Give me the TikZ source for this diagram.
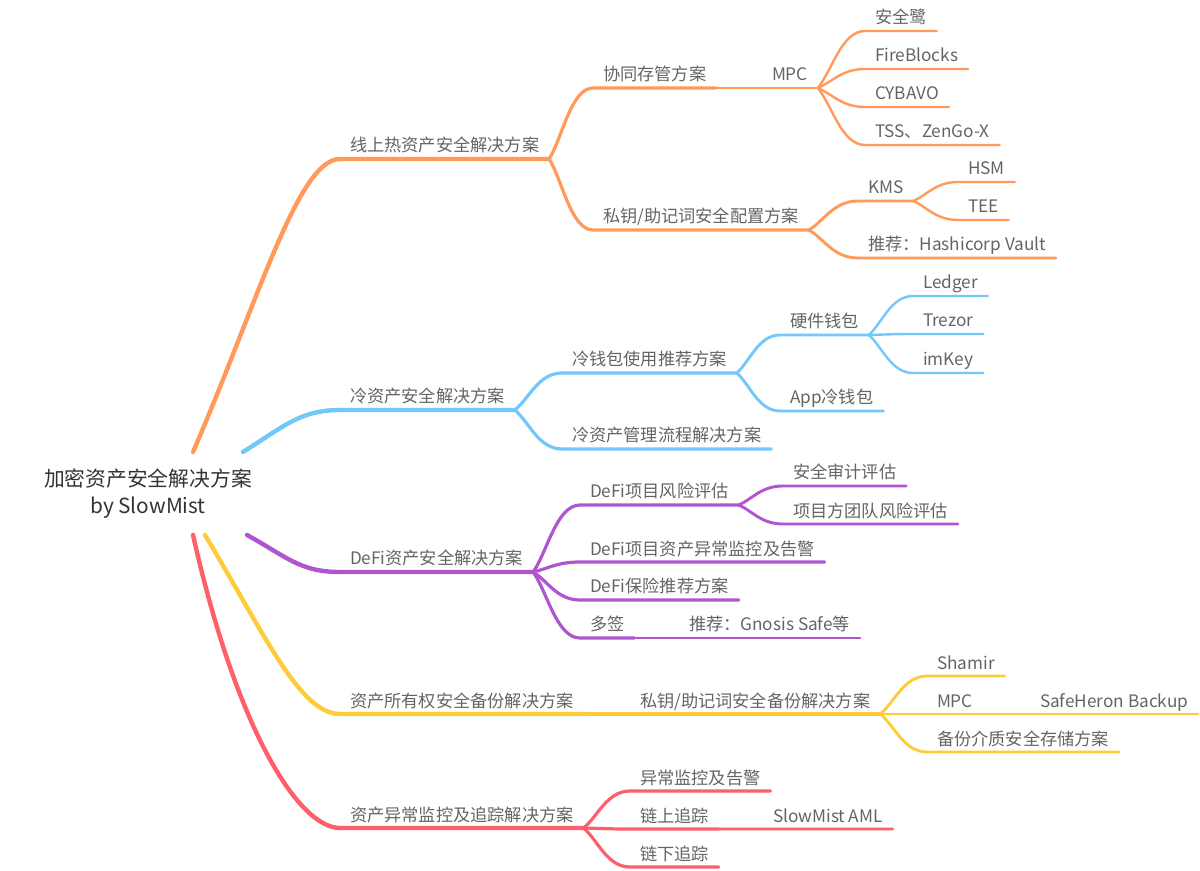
\documentclass[tikz,border=0pt]{standalone}
\usepackage{fontspec}
\newfontfamily\cjk{Noto Sans CJK SC}
\usetikzlibrary{calc}

\definecolor{hotc}{HTML}{FF9A5B}
\definecolor{coldc}{HTML}{72C8FA}
\definecolor{defic}{HTML}{B054CF}
\definecolor{ownc}{HTML}{FECC3A}
\definecolor{monc}{HTML}{FD5F6B}
\definecolor{txtc}{HTML}{646464}
\definecolor{rootc}{HTML}{333333}

\begin{document}
\begin{tikzpicture}[x=0.5pt,y=-0.5pt,line cap=round,line join=round,
    root/.style={align=center,text=rootc,font=\cjk\fontsize{10.4pt}{13.5pt}\selectfont},
    topic/.style={anchor=south west,inner xsep=5pt,inner ysep=1.6pt,outer sep=0pt,
      text height=7pt,text depth=1.9pt,text=txtc,font=\cjk\fontsize{8.6pt}{10pt}\selectfont},
    twig/.style={to path={let \p1=(\tikztostart),\p2=(\tikztotarget) in
      .. controls ($(\p1)!0.3!(\p2)$) and ({0.5*\x1+0.5*\x2},\y2) .. (\p2) \tikztonodes}},
    lv1/.style={line width=2.2pt},
    lv2/.style={twig,line width=1.6pt},
    lv3/.style={twig,line width=1.45pt},
    lv4/.style={twig,line width=1.2pt}]
  \useasboundingbox (0,0) rectangle (1200,871);

  \node[root] (root) at (148,494) {加密资产安全解决方案\\by SlowMist};
  \coordinate (hot0)  at (193,452);
  \coordinate (cold0) at (243,452);
  \coordinate (defi0) at (247,535);
  \coordinate (own0)  at (205,535);
  \coordinate (mon0)  at (193,535);

  % hot assets
  \node[topic] (hot)        at (340,159) {线上热资产安全解决方案};
  \node[topic] (cust)       at (593,88)  {协同存管方案};
  \node[topic] (mpc)        at (762,88)  {MPC};
  \node[topic] (aql)        at (865,31)  {安全鹭};
  \node[topic] (fireblocks) at (865,69)  {FireBlocks};
  \node[topic] (cybavo)     at (865,107) {CYBAVO};
  \node[topic] (tss)        at (865,145) {TSS、ZenGo-X};
  \node[topic] (keycfg)     at (593,230) {私钥/助记词安全配置方案};
  \node[topic] (kms)        at (858,201) {KMS};
  \node[topic] (hsm)        at (958,182) {HSM};
  \node[topic] (tee)        at (958,220) {TEE};
  \node[topic] (vault)      at (858,258) {推荐：Hashicorp Vault};

  % cold assets
  \node[topic] (cold)     at (340,410) {冷资产安全解决方案};
  \node[topic] (wallet)   at (562,373) {冷钱包使用推荐方案};
  \node[topic] (hw)       at (780,335) {硬件钱包};
  \node[topic] (ledger)   at (913,296) {Ledger};
  \node[topic] (trezor)   at (913,334) {Trezor};
  \node[topic] (imkey)    at (913,373) {imKey};
  \node[topic] (app)      at (780,411) {App冷钱包};
  \node[topic] (coldflow) at (562,449) {冷资产管理流程解决方案};

  % defi
  \node[topic] (defi)     at (340,572) {DeFi资产安全解决方案};
  \node[topic] (risk)     at (580,505) {DeFi项目风险评估};
  \node[topic] (audit)    at (783,486) {安全审计评估};
  \node[topic] (team)     at (783,524) {项目方团队风险评估};
  \node[topic] (alert)    at (580,562) {DeFi项目资产异常监控及告警};
  \node[topic] (insure)   at (580,600) {DeFi保险推荐方案};
  \node[topic] (multisig) at (580,638) {多签};
  \node[topic] (gnosis)   at (679,638) {推荐：Gnosis Safe等};

  % ownership backup
  \node[topic] (own)       at (340,714)  {资产所有权安全备份解决方案};
  \node[topic] (backup)    at (630,714)  {私钥/助记词安全备份解决方案};
  \node[topic] (shamir)    at (927,676)  {Shamir};
  \node[topic] (mpcb)      at (927,714)  {MPC};
  \node[topic] (safeheron) at (1030,714) {SafeHeron Backup};
  \node[topic] (media)     at (927,752)  {备份介质安全存储方案};

  % monitoring
  \node[topic] (mon)      at (340,828) {资产异常监控及追踪解决方案};
  \node[topic] (abn)      at (630,791) {异常监控及告警};
  \node[topic] (onchain)  at (630,829) {链上追踪};
  \node[topic] (aml)      at (763,829) {SlowMist AML};
  \node[topic] (offchain) at (630,867) {链下追踪};

  % main branches
  \draw[lv1,hotc]  (hot0)  .. controls +(65,-150) and +(-42,0) .. (hot.south west)  -- (hot.south east);
  \draw[lv1,coldc] (cold0) .. controls +(40,-25)  and +(-40,0) .. (cold.south west) -- (cold.south east);
  \draw[lv1,defic] (defi0) .. controls +(40,22)   and +(-40,0) .. (defi.south west) -- (defi.south east);
  \draw[lv1,ownc]  (own0)  .. controls +(60,100)  and +(-40,0) .. (own.south west)  -- (own.south east);
  \draw[lv1,monc]  (mon0)  .. controls +(45,200)  and +(-40,0) .. (mon.south west)  -- (mon.south east);

  % hot branch connectors
  \draw[lv2,hotc] (hot.south east) to (cust.south west) -- (cust.south east);
  \draw[lv2,hotc] (hot.south east) to (keycfg.south west) -- (keycfg.south east);
  \draw[lv3,hotc] (cust.south east) to (mpc.south west) -- (mpc.south east);
  \draw[lv4,hotc] (mpc.south east) to (aql.south west) -- (aql.south east);
  \draw[lv4,hotc] (mpc.south east) to (fireblocks.south west) -- (fireblocks.south east);
  \draw[lv4,hotc] (mpc.south east) to (cybavo.south west) -- (cybavo.south east);
  \draw[lv4,hotc] (mpc.south east) to (tss.south west) -- (tss.south east);
  \draw[lv3,hotc] (keycfg.south east) to (kms.south west) -- (kms.south east);
  \draw[lv3,hotc] (keycfg.south east) to (vault.south west) -- (vault.south east);
  \draw[lv4,hotc] (kms.south east) to (hsm.south west) -- (hsm.south east);
  \draw[lv4,hotc] (kms.south east) to (tee.south west) -- (tee.south east);

  % cold branch connectors
  \draw[lv2,coldc] (cold.south east) to (wallet.south west) -- (wallet.south east);
  \draw[lv2,coldc] (cold.south east) to (coldflow.south west) -- (coldflow.south east);
  \draw[lv3,coldc] (wallet.south east) to (hw.south west) -- (hw.south east);
  \draw[lv3,coldc] (wallet.south east) to (app.south west) -- (app.south east);
  \draw[lv4,coldc] (hw.south east) to (ledger.south west) -- (ledger.south east);
  \draw[lv4,coldc] (hw.south east) to (trezor.south west) -- (trezor.south east);
  \draw[lv4,coldc] (hw.south east) to (imkey.south west) -- (imkey.south east);

  % defi branch connectors
  \draw[lv2,defic] (defi.south east) to (risk.south west) -- (risk.south east);
  \draw[lv2,defic] (defi.south east) to (alert.south west) -- (alert.south east);
  \draw[lv2,defic] (defi.south east) to (insure.south west) -- (insure.south east);
  \draw[lv2,defic] (defi.south east) to (multisig.south west) -- (multisig.south east);
  \draw[lv3,defic] (risk.south east) to (audit.south west) -- (audit.south east);
  \draw[lv3,defic] (risk.south east) to (team.south west) -- (team.south east);
  \draw[lv3,defic] (multisig.south east) to (gnosis.south west) -- (gnosis.south east);

  % backup branch connectors
  \draw[lv2,ownc] (own.south east) to (backup.south west) -- (backup.south east);
  \draw[lv3,ownc] (backup.south east) to (shamir.south west) -- (shamir.south east);
  \draw[lv3,ownc] (backup.south east) to (mpcb.south west) -- (mpcb.south east);
  \draw[lv3,ownc] (backup.south east) to (media.south west) -- (media.south east);
  \draw[lv4,ownc] (mpcb.south east) to (safeheron.south west) -- (safeheron.south east);

  % monitoring branch connectors
  \draw[lv2,monc] (mon.south east) to (abn.south west) -- (abn.south east);
  \draw[lv2,monc] (mon.south east) to (onchain.south west) -- (onchain.south east);
  \draw[lv2,monc] (mon.south east) to (offchain.south west) -- (offchain.south east);
  \draw[lv3,monc] (onchain.south east) to (aml.south west) -- (aml.south east);
\end{tikzpicture}
\end{document}
